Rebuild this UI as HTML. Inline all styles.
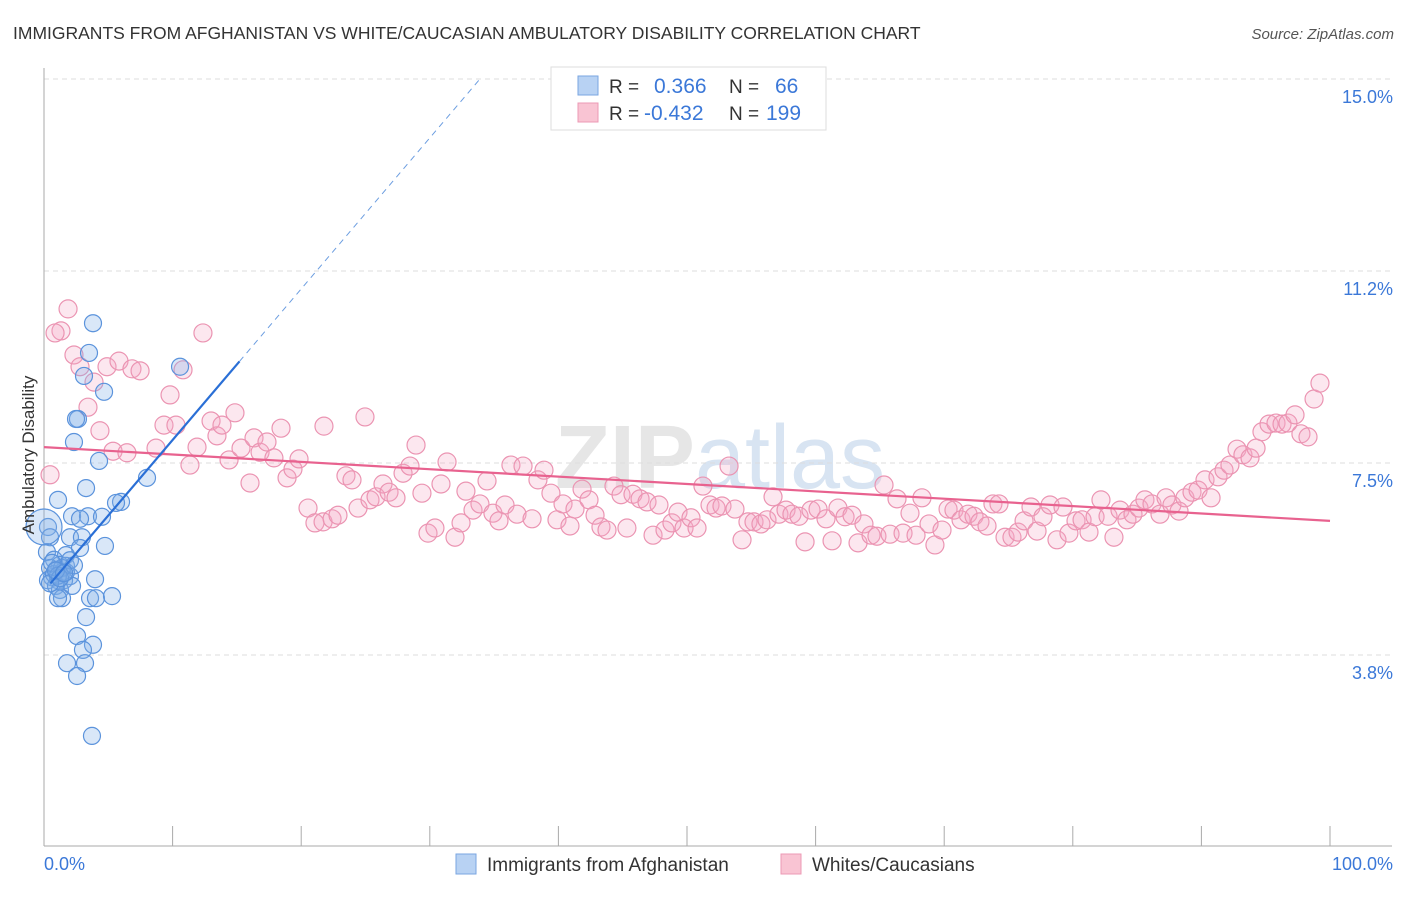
<!DOCTYPE html>
<html><head><meta charset="utf-8"><style>
body{margin:0;background:#fff;font-family:"Liberation Sans",sans-serif;}
svg text{font-family:"Liberation Sans",sans-serif;}
</style></head><body>
<svg id="chart" width="1406" height="892" viewBox="0 0 1406 892" xmlns="http://www.w3.org/2000/svg">
<text x="13" y="39" font-size="17.5" fill="#333">IMMIGRANTS FROM AFGHANISTAN VS WHITE/CAUCASIAN AMBULATORY DISABILITY CORRELATION CHART</text>
<text x="1394" y="39" font-size="15" fill="#555" font-style="italic" text-anchor="end">Source: ZipAtlas.com</text>
<text x="720" y="488" font-size="90" fill="#e6e6e6" text-anchor="middle" font-family="Liberation Serif" font-weight="bold">ZIP<tspan font-family="Liberation Sans" font-weight="normal" fill="#d8e4f2">atlas</tspan></text>
<g id="grid"></g>
<g id="axes"></g>
<g id="marks"></g>
<text transform="translate(34,455) rotate(-90)" font-size="17" fill="#333" text-anchor="middle">Ambulatory Disability</text>
<g>
<rect x="551" y="67" width="275" height="63" fill="#fff" stroke="#ddd"/>
<rect x="578" y="76" width="20" height="19" fill="#b8d2f3" stroke="#7aa6e0"/>
<rect x="578" y="103" width="20" height="19" fill="#f9c4d3" stroke="#ec9ab4"/>
<text x="609" y="93" font-size="19" fill="#333">R =</text>
<text x="654" y="93" font-size="21" fill="#3b78d8">0.366</text>
<text x="729" y="93" font-size="19" fill="#333">N =</text>
<text x="775" y="93" font-size="21" fill="#3b78d8">66</text>
<text x="609" y="120" font-size="19" fill="#333">R =</text>
<text x="644" y="120" font-size="21" fill="#3b78d8">-0.432</text>
<text x="729" y="120" font-size="19" fill="#333">N =</text>
<text x="766" y="120" font-size="21" fill="#3b78d8">199</text>
</g>
<g>
<rect x="456" y="854" width="20" height="20" fill="#b8d2f3" stroke="#7aa6e0"/>
<text x="487" y="871" font-size="19" fill="#333">Immigrants from Afghanistan</text>
<rect x="781" y="854" width="20" height="20" fill="#f9c4d3" stroke="#ec9ab4"/>
<text x="812" y="871" font-size="19" fill="#333">Whites/Caucasians</text>
</g>
</svg>
<script>
const yTicks=[3.75,7.5,11.25,15.0];
const yTickLabels=["3.8%","7.5%","11.2%","15.0%"];
const xTickVals=[0,10,20,30,40,50,60,70,80,90,100];
const xEndLabels=["0.0%","100.0%"];
const blueX=[3.81,3.50,10.58,3.11,4.67,2.64,2.49,2.33,4.28,8.01,3.27,1.09,5.99,5.60,2.18,3.42,4.51,2.80,0.31,2.02,2.95,0.47,4.74,2.80,0.23,1.71,0.78,1.24,1.71,0.47,0.93,1.40,2.02,0.62,1.09,1.56,0.31,3.97,0.93,1.24,2.18,1.40,3.58,4.04,5.29,1.09,3.27,2.57,3.81,3.03,1.79,3.19,2.57,3.73,0.78,1.71,1.40,0.62,2.02,1.09,0.47,1.24,0.93,2.33,1.56];
const blueY=[10.23,9.65,9.38,9.20,8.89,8.36,8.36,7.91,7.54,7.21,7.01,6.78,6.74,6.72,6.46,6.46,6.45,6.41,6.25,6.05,6.05,6.05,5.88,5.84,5.76,5.70,5.61,5.51,5.49,5.45,5.41,5.37,5.29,5.27,5.21,5.21,5.21,5.23,5.10,5.02,5.10,4.86,4.86,4.86,4.90,4.86,4.49,4.12,3.95,3.85,3.59,3.59,3.34,2.17,5.33,5.37,5.45,5.55,5.60,5.30,5.15,5.25,5.40,5.50,5.35];
const bigBlueX=[0.0];
const bigBlueY=[6.25];
const pinkX=[1.87,1.32,0.86,2.33,2.80,3.89,4.90,5.83,6.84,7.47,3.42,4.35,5.37,6.45,8.71,9.33,9.80,10.26,10.81,11.35,11.90,12.36,12.99,13.45,13.84,14.39,14.85,15.32,16.02,16.33,16.80,17.34,17.88,18.43,18.90,19.36,19.83,20.53,21.07,21.70,22.40,22.86,21.77,23.48,23.95,24.42,24.96,25.35,25.82,26.36,26.83,27.37,27.92,28.46,28.93,29.39,29.86,30.40,30.87,31.34,31.96,32.43,32.81,33.36,33.90,34.45,34.91,35.38,35.85,36.31,36.78,37.25,37.95,38.41,38.88,39.42,39.89,40.36,40.90,41.29,41.84,42.38,42.85,43.31,43.78,44.32,44.87,45.33,45.80,46.35,46.89,47.36,47.82,48.29,48.83,49.30,49.77,50.31,50.78,51.24,51.79,52.26,52.72,53.27,53.73,54.28,54.74,55.21,55.75,56.22,56.69,57.15,57.70,58.16,58.71,59.18,59.64,60.19,60.81,61.28,61.74,62.29,62.83,63.30,63.76,64.31,64.77,65.32,65.79,66.33,66.80,67.34,67.81,68.27,68.82,69.28,69.83,70.30,70.76,71.31,71.85,72.32,72.78,73.33,73.79,74.26,74.73,75.27,75.74,76.21,76.75,77.22,77.68,78.23,78.77,79.24,79.70,80.25,80.72,81.26,81.73,82.19,82.74,83.20,83.67,84.21,84.68,85.15,85.61,86.16,86.78,87.25,87.71,88.26,88.72,89.27,89.74,90.28,90.75,91.29,91.76,92.22,92.77,93.23,93.78,94.25,94.71,95.26,95.80,96.27,96.73,97.28,97.74,98.29,98.76,99.22,0.47];
const pinkY=[10.51,10.08,10.04,9.61,9.38,9.08,9.38,9.49,9.34,9.30,8.59,8.13,7.73,7.70,7.79,8.24,8.83,8.24,9.32,7.46,7.81,10.04,8.32,8.03,8.24,7.56,8.48,7.79,7.11,7.99,7.71,7.91,7.60,8.18,7.21,7.38,7.58,6.62,6.33,6.35,6.41,6.48,8.22,7.25,7.17,6.62,8.40,6.78,6.84,7.09,6.93,6.82,7.30,7.44,7.85,6.91,6.13,6.23,7.09,7.52,6.05,6.33,6.95,6.58,6.70,7.15,6.52,6.37,6.68,7.46,6.50,7.44,6.41,7.17,7.36,6.91,6.39,6.70,6.27,6.60,6.99,6.78,6.48,6.25,6.19,7.05,6.88,6.23,6.89,6.80,6.74,6.09,6.68,6.19,6.33,6.54,6.23,6.43,6.23,7.05,6.68,6.62,6.66,7.44,6.60,6.00,6.35,6.35,6.31,6.39,6.84,6.50,6.58,6.50,6.46,5.96,6.58,6.60,6.41,5.98,6.62,6.45,6.48,5.94,6.31,6.09,6.07,7.07,6.11,6.80,6.13,6.52,6.09,6.82,6.31,5.90,6.19,6.60,6.58,6.39,6.50,6.46,6.35,6.27,6.70,6.70,6.05,6.05,6.15,6.37,6.64,6.17,6.45,6.68,6.00,6.64,6.13,6.37,6.39,6.15,6.45,6.78,6.46,6.05,6.58,6.39,6.50,6.62,6.78,6.70,6.50,6.82,6.68,6.56,6.82,6.93,6.97,7.17,6.82,7.23,7.36,7.46,7.77,7.66,7.60,7.79,8.11,8.26,8.28,8.26,8.28,8.44,8.07,8.01,8.75,9.06,7.27];
const blueTrend=[5.0,0.295]; // intercept, slope
const pinkTrend=[7.81,-0.0144];

const NS="http://www.w3.org/2000/svg";
const X0=44,X1=1330,YB=847,YT=79;
const sx=v=>X0+(X1-X0)*v/100;
const sy=v=>YB-(YB-YT)*v/15;
function mk(tag,attrs,parent){const e=document.createElementNS(NS,tag);for(const k in attrs)e.setAttribute(k,attrs[k]);parent.appendChild(e);return e;}
const grid=document.getElementById('grid'),axes=document.getElementById('axes'),marks=document.getElementById('marks');
yTicks.forEach((t,i)=>{
  const l=mk('line',{x1:X0,x2:1392,y1:sy(t),y2:sy(t),stroke:'#ddd','stroke-dasharray':'5,4'},grid);
  
  
  const tx=mk('text',{x:1393,y:sy(t)+24,'font-size':18,fill:'#3b78d8','text-anchor':'end'},axes);
  tx.textContent=yTickLabels[i];
  
  
});
const ya=mk('line',{x1:X0,x2:X0,y1:68,y2:846,stroke:'#aaa'},axes);


const xa=mk('line',{x1:X0,x2:1392,y1:846,y2:846,stroke:'#aaa'},axes);


xTickVals.forEach(t=>{
  const l=mk('line',{x1:sx(t),x2:sx(t),y1:826,y2:846,stroke:'#aaa'},axes);
  
  
});
const xl0=mk('text',{x:44,y:870,'font-size':18,fill:'#3b78d8'},axes);xl0.textContent=xEndLabels[0];


const xl1=mk('text',{x:1393,y:870,'font-size':18,fill:'#3b78d8','text-anchor':'end'},axes);xl1.textContent=xEndLabels[1];



pinkX.forEach((x,i)=>{
  const c=mk('circle',{cx:sx(x),cy:sy(pinkY[i]),r:9,fill:'rgba(244,170,196,0.28)',stroke:'#eb94b2','stroke-width':1.2},marks);
  
  
});
blueX.forEach((x,i)=>{
  const c=mk('circle',{cx:sx(x),cy:sy(blueY[i]),r:8.5,fill:'rgba(130,175,232,0.3)',stroke:'#5b93dc','stroke-width':1.2},marks);
  
  
});
bigBlueX.forEach((x,i)=>{
  const c=mk('circle',{cx:sx(x),cy:sy(bigBlueY[i]),r:18,fill:'rgba(130,175,232,0.3)',stroke:'#5b93dc','stroke-width':1.2},marks);
  
  
});
const pt=mk('line',{x1:sx(0),y1:sy(pinkTrend[0]),x2:sx(100),y2:sy(pinkTrend[0]+pinkTrend[1]*100),stroke:'#e8628f','stroke-width':2.2},marks);


const bx1=15.2,bx2=(15-blueTrend[0])/blueTrend[1];
const bt=mk('line',{x1:sx(0.5),y1:sy(blueTrend[0]+blueTrend[1]*0.5),x2:sx(bx1),y2:sy(blueTrend[0]+blueTrend[1]*bx1),stroke:'#2a6fd6','stroke-width':2.2},marks);


const bd=mk('line',{x1:sx(bx1),y1:sy(blueTrend[0]+blueTrend[1]*bx1),x2:sx(bx2),y2:sy(15),stroke:'#6b9de0','stroke-width':1,'stroke-dasharray':'6,5'},marks);


</script>
</body></html>
